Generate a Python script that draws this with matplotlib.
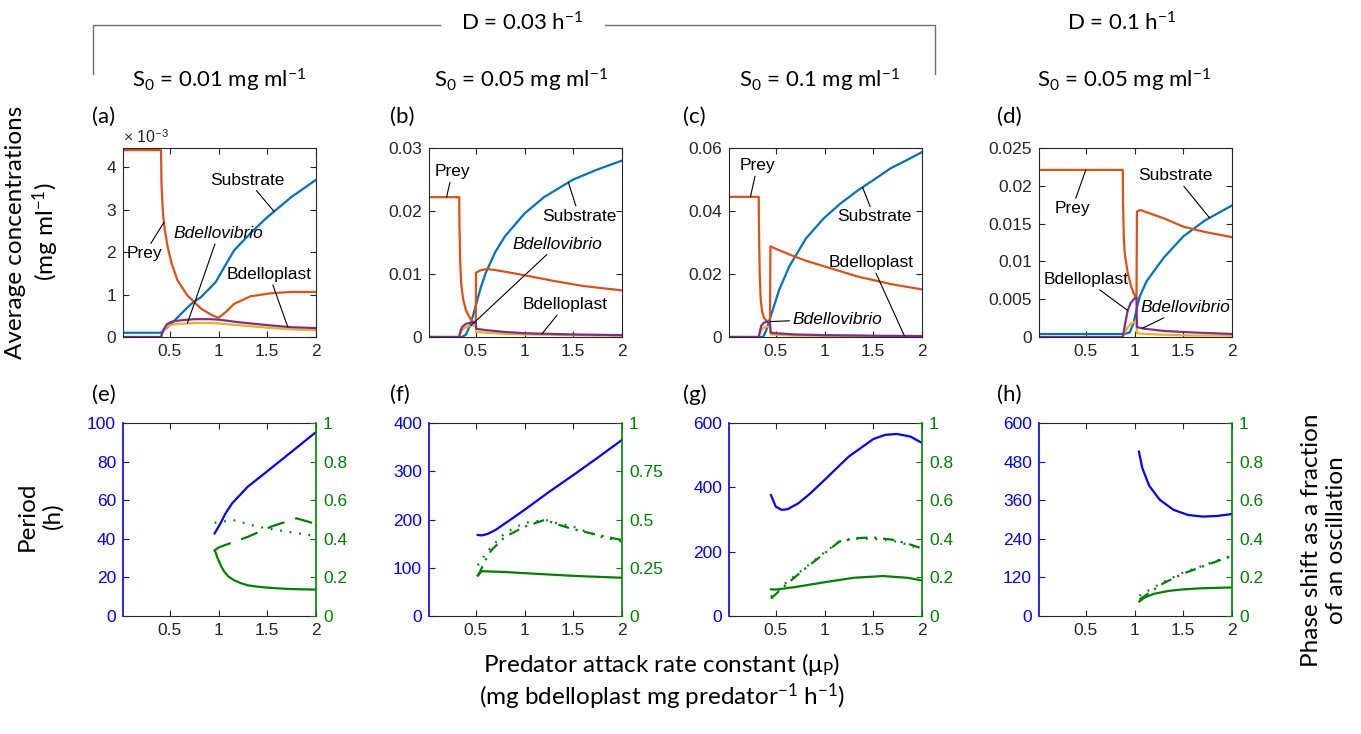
import numpy as np
import matplotlib
matplotlib.use("Agg")
import matplotlib.pyplot as plt
from matplotlib.lines import Line2D
from matplotlib.ticker import FuncFormatter

plt.rcParams['font.family'] = 'Liberation Sans'
plt.rcParams['mathtext.fontset'] = 'custom'
plt.rcParams['mathtext.rm'] = 'Lato'
plt.rcParams['mathtext.it'] = 'Lato:italic'
plt.rcParams['mathtext.bf'] = 'Lato:bold'

# ---------------- data: average concentrations (mg/ml) vs attack rate ----------------
# (a) D = 0.03, S0 = 0.01
mu_a_prey = [0.02, 0.41, 0.415, 0.43, 0.45, 0.48, 0.52, 0.58, 0.68, 0.82, 0.92, 1.0, 1.08, 1.16, 1.33, 1.54, 1.74, 2.0]
prey_a = [4.4e-3, 4.4e-3, 3.6e-3, 2.9e-3, 2.5e-3, 2.1e-3, 1.72e-3, 1.33e-3, 0.98e-3, 0.67e-3, 0.53e-3, 0.45e-3,
          0.6e-3, 0.78e-3, 0.96e-3, 1.03e-3, 1.06e-3, 1.06e-3]
mu_a_sub = [0.02, 0.41, 0.45, 0.5, 0.55, 0.63, 0.72, 0.82, 0.97, 1.06, 1.16, 1.33, 1.5, 1.75, 2.0]
sub_a = [0.1e-3, 0.1e-3, 0.18e-3, 0.28e-3, 0.39e-3, 0.58e-3, 0.78e-3, 0.94e-3, 1.29e-3, 1.65e-3, 2.04e-3,
         2.45e-3, 2.82e-3, 3.3e-3, 3.7e-3]
mu_a_pred = [0.02, 0.41, 0.43, 0.47, 0.52, 0.6, 0.75, 0.9, 1.0, 1.2, 1.5, 1.75, 2.0]
plast_a = [0, 0, 0.15e-3, 0.3e-3, 0.36e-3, 0.39e-3, 0.42e-3, 0.42e-3, 0.41e-3, 0.35e-3, 0.28e-3, 0.23e-3, 0.21e-3]
vib_a = [0, 0, 0.12e-3, 0.24e-3, 0.29e-3, 0.31e-3, 0.33e-3, 0.33e-3, 0.32e-3, 0.28e-3, 0.22e-3, 0.18e-3, 0.16e-3]

# (b) D = 0.03, S0 = 0.05
mu_b_prey = [0.02, 0.33, 0.332, 0.34, 0.35, 0.37, 0.4, 0.44, 0.48, 0.5, 0.502, 0.55, 0.62, 0.75, 1.0, 1.3, 1.6, 2.0]
prey_b = [0.0222, 0.0222, 0.018, 0.012, 0.0085, 0.006, 0.0042, 0.003, 0.0023, 0.0024, 0.0102, 0.0106, 0.0108,
          0.0105, 0.0098, 0.0089, 0.0081, 0.0074]
mu_b_sub = [0.02, 0.36, 0.4, 0.45, 0.5, 0.55, 0.6, 0.7, 0.8, 1.0, 1.2, 1.5, 1.75, 2.0]
sub_b = [0, 0, 0.0004, 0.0022, 0.005, 0.0078, 0.0101, 0.0135, 0.016, 0.0196, 0.0222, 0.025, 0.0266, 0.028]
mu_b_pred = [0.02, 0.33, 0.34, 0.36, 0.4, 0.45, 0.5, 0.505, 0.6, 0.8, 1.0, 1.5, 2.0]
plast_b = [0, 0, 0.0008, 0.0016, 0.0021, 0.0023, 0.0023, 0.0013, 0.0011, 0.0008, 0.0006, 0.0004, 0.0003]
vib_b = [0, 0, 0.0005, 0.0011, 0.0016, 0.0018, 0.0018, 0.0008, 0.0007, 0.0005, 0.0004, 0.0003, 0.0002]

# (c) D = 0.03, S0 = 0.1
mu_c_prey = [0.02, 0.325, 0.327, 0.335, 0.345, 0.36, 0.38, 0.41, 0.44, 0.445, 0.5, 0.64, 0.8, 1.0, 1.34, 1.68, 2.0]
prey_c = [0.0445, 0.0445, 0.035, 0.02, 0.012, 0.008, 0.006, 0.005, 0.0045, 0.0288, 0.028, 0.0262, 0.0243,
          0.0224, 0.0192, 0.0168, 0.0151]
mu_c_sub = [0.02, 0.37, 0.4, 0.45, 0.535, 0.64, 0.81, 0.99, 1.16, 1.34, 1.51, 1.68, 1.86, 2.0]
sub_c = [0, 0, 0.002, 0.0068, 0.015, 0.0225, 0.0313, 0.0376, 0.0423, 0.0465, 0.05, 0.0536, 0.0564, 0.0587]
mu_c_pred = [0.02, 0.325, 0.335, 0.35, 0.38, 0.42, 0.44, 0.447, 0.5, 0.7, 1.0, 1.5, 2.0]
plast_c = [0, 0, 0.0015, 0.0035, 0.0046, 0.0049, 0.0049, 0.0014, 0.0012, 0.0008, 0.0006, 0.0004, 0.0003]
vib_c = [0, 0, 0.001, 0.0022, 0.003, 0.0033, 0.0034, 0.0008, 0.0007, 0.0005, 0.0004, 0.0003, 0.0002]

# (d) D = 0.1, S0 = 0.05
mu_d_prey = [0.02, 0.88, 0.882, 0.89, 0.9, 0.93, 0.97, 1.01, 1.02, 1.025, 1.06, 1.125, 1.3, 1.5, 1.72, 2.0]
prey_d = [0.0221, 0.0221, 0.018, 0.013, 0.011, 0.0085, 0.0065, 0.0052, 0.0051, 0.0166, 0.0168, 0.0165,
          0.0157, 0.0146, 0.0139, 0.0132]
mu_d_sub = [0.02, 0.9, 0.95, 0.99, 1.03, 1.055, 1.125, 1.3, 1.5, 1.72, 2.0]
sub_d = [0.0004, 0.0004, 0.0006, 0.0018, 0.0042, 0.0054, 0.0074, 0.0105, 0.0133, 0.0154, 0.0174]
mu_d_pred = [0.02, 0.88, 0.9, 0.93, 0.96, 1.0, 1.02, 1.025, 1.1, 1.3, 1.6, 2.0]
plast_d = [0, 0, 0.0015, 0.0035, 0.0045, 0.0051, 0.0052, 0.0013, 0.0011, 0.0008, 0.0006, 0.0004]
vib_d = [0, 0, 0.0006, 0.0013, 0.0017, 0.002, 0.002, 0.0005, 0.0004, 0.0003, 0.0002, 0.0002]

# ---------------- data: oscillation period (h) and phase shifts ----------------
mu_e_per = [0.96, 1.02, 1.07, 1.14, 1.3, 1.5, 1.71, 2.0]
period_e = [42.8, 48, 53, 58.4, 67, 75, 83.5, 95.3]
mu_e_solid = [0.96, 0.97, 0.99, 1.03, 1.06, 1.1, 1.16, 1.23, 1.3, 1.4, 1.5, 1.65, 1.78, 2.0]
phase_solid_e = [0.34, 0.33, 0.30, 0.255, 0.229, 0.205, 0.185, 0.17, 0.159, 0.152, 0.147, 0.142, 0.139, 0.137]
mu_e_dash = [0.96, 1.0, 1.3, 1.55, 1.8, 2.0]
phase_dash_e = [0.34, 0.355, 0.41, 0.465, 0.506, 0.477]
mu_e_dot = [0.96, 1.15, 1.4, 1.7, 2.0]
phase_dot_e = [0.483, 0.497, 0.463, 0.437, 0.414]

mu_f_per = [0.52, 0.56, 0.62, 0.7, 0.83, 1.0, 1.25, 1.5, 1.75, 2.0]
period_f = [168, 167, 170, 178, 196, 220, 257, 292, 328, 365]
mu_f_solid = [0.52, 0.56, 0.8, 1.0, 1.5, 2.0]
phase_solid_f = [0.21, 0.232, 0.228, 0.222, 0.208, 0.198]
mu_f_other = [0.52, 0.6, 0.66, 0.8, 1.0, 1.22, 1.3, 1.5, 1.75, 2.0]
phase_dashdot_f = [0.206, 0.29, 0.341, 0.41, 0.463, 0.5, 0.48, 0.45, 0.42, 0.393]
phase_dot_f = [0.263, 0.32, 0.359, 0.43, 0.483, 0.497, 0.485, 0.463, 0.414, 0.385]

mu_g_per = [0.45, 0.5, 0.56, 0.62, 0.73, 0.85, 1.0, 1.25, 1.5, 1.62, 1.74, 1.88, 2.0]
period_g = [376, 340, 330, 332, 350, 380, 423, 496, 550, 563, 566, 558, 538]
mu_g_solid = [0.45, 0.5, 0.7, 1.0, 1.3, 1.6, 1.85, 2.0]
phase_solid_g = [0.138, 0.137, 0.15, 0.175, 0.198, 0.207, 0.198, 0.184]
mu_g_other = [0.45, 0.6, 0.8, 1.0, 1.15, 1.3, 1.5, 1.7, 1.85, 2.0]
phase_dashdot_g = [0.09, 0.16, 0.245, 0.325, 0.385, 0.403, 0.407, 0.395, 0.375, 0.35]
phase_dot_g = [0.1, 0.17, 0.25, 0.33, 0.385, 0.4, 0.4, 0.39, 0.37, 0.345]

mu_h_per = [1.045, 1.08, 1.15, 1.26, 1.4, 1.55, 1.7, 1.85, 2.0]
period_h = [511, 460, 405, 361, 330, 314, 309, 311, 317]
mu_h_solid = [1.05, 1.1, 1.2, 1.35, 1.5, 1.7, 2.0]
phase_solid_h = [0.075, 0.095, 0.115, 0.13, 0.138, 0.144, 0.148]
mu_h_other = [1.05, 1.29, 1.5, 1.88, 2.0]
phase_dashdot_h = [0.085, 0.168, 0.22, 0.29, 0.31]
phase_dot_h = [0.105, 0.175, 0.225, 0.293, 0.312]

x_ticks = [0.5, 1, 1.5, 2]
x_tick_labels = ['0.5', '1', '1.5', '2']
panel_letters_top = ['(a)', '(b)', '(c)', '(d)']
panel_letters_bot = ['(e)', '(f)', '(g)', '(h)']
s0_titles = [r'S$_0$ = 0.01 mg ml$^{-1}$', r'S$_0$ = 0.05 mg ml$^{-1}$',
             r'S$_0$ = 0.1 mg ml$^{-1}$', r'S$_0$ = 0.05 mg ml$^{-1}$']

# ---------------- styling ----------------
W, H = 1361, 734
C_SUB, C_PREY, C_VIB, C_PLAST = '#0072BD', '#D95319', '#EDB120', '#7E2F8E'
C_PER, C_PHASE = '#0000FF', '#008000'
AXC = '#262626'
LW = 1.6
TICK_FS = 12.5
HEAD_FONT = 'Lato'
TITLE_FS = 17.5

fig = plt.figure(figsize=(W / 100, H / 100), dpi=100)


def rect(l, t, r, b):
    return [l / W, 1 - b / H, (r - l) / W, (b - t) / H]


def ftext(x, y, s, **kw):
    fig.text(x / W, 1 - y / H, s, **kw)


lefts = [123, 429, 729, 1039]
width = 193
top_row = (148, 337)
bot_row = (423, 616)


def base_style(ax):
    ax.set_xlim(0.02, 2)
    ax.set_xticks(x_ticks)
    ax.set_xticklabels(x_tick_labels)
    ax.tick_params(direction='in', length=4.5, width=0.8, labelsize=TICK_FS, colors=AXC, pad=5)
    ax.tick_params(axis='x', top=True)
    for s in ax.spines.values():
        s.set_color(AXC)
        s.set_linewidth(0.8)


gfmt = FuncFormatter(lambda v, p: '%g' % v)

top_specs = [
    dict(prey=(mu_a_prey, prey_a), sub=(mu_a_sub, sub_a), plast=(mu_a_pred, plast_a), vib=(mu_a_pred, vib_a),
         ylim=(0, 4.45e-3), yticks=[0, 1e-3, 2e-3, 3e-3, 4e-3]),
    dict(prey=(mu_b_prey, prey_b), sub=(mu_b_sub, sub_b), plast=(mu_b_pred, plast_b), vib=(mu_b_pred, vib_b),
         ylim=(0, 0.03), yticks=[0, 0.01, 0.02, 0.03]),
    dict(prey=(mu_c_prey, prey_c), sub=(mu_c_sub, sub_c), plast=(mu_c_pred, plast_c), vib=(mu_c_pred, vib_c),
         ylim=(0, 0.06), yticks=[0, 0.02, 0.04, 0.06]),
    dict(prey=(mu_d_prey, prey_d), sub=(mu_d_sub, sub_d), plast=(mu_d_pred, plast_d), vib=(mu_d_pred, vib_d),
         ylim=(0, 0.025), yticks=[0, 0.005, 0.01, 0.015, 0.02, 0.025]),
]

# label text, italic?, text position (mu, value), series to point at, mu of target
annotations = [
    [('Substrate', False, (1.30, 3.69e-3), 'sub', 1.57),
     ('Prey', False, (0.24, 1.96e-3), 'prey', 0.44),
     ('Bdellovibrio', True, (1.0, 2.43e-3), 'vib', 0.68),
     ('Bdelloplast', False, (1.52, 1.47e-3), 'plast', 1.71)],
    [('Prey', False, (0.26, 0.0262), 'prey', 0.2),
     ('Substrate', False, (1.56, 0.0192), 'sub', 1.45),
     ('Bdellovibrio', True, (1.34, 0.0147), 'vib', 0.45),
     ('Bdelloplast', False, (1.42, 0.0051), 'plast', 1.18)],
    [('Prey', False, (0.31, 0.0543), 'prey', 0.24),
     ('Substrate', False, (1.51, 0.0381), 'sub', 1.39),
     ('Bdelloplast', False, (1.48, 0.0235), 'plast', 1.82),
     ('Bdellovibrio', True, (1.13, 0.0057), 'plast', 0.44)],
    [('Prey', False, (0.36, 0.017), 'prey', 0.5),
     ('Substrate', False, (1.42, 0.0213), 'sub', 1.77),
     ('Bdelloplast', False, (0.5, 0.0076), 'plast', 0.93),
     ('Bdellovibrio', True, (1.52, 0.0039), 'plast', 1.08)],
]

for i, spec in enumerate(top_specs):
    ax = fig.add_axes(rect(lefts[i], top_row[0], lefts[i] + width, top_row[1]))
    base_style(ax)
    ax.tick_params(axis='y', right=True)
    ax.plot(*spec['sub'], color=C_SUB, lw=LW)
    ax.plot(*spec['prey'], color=C_PREY, lw=LW)
    ax.plot(*spec['vib'], color=C_VIB, lw=LW)
    ax.plot(*spec['plast'], color=C_PLAST, lw=LW)
    ax.set_ylim(*spec['ylim'])
    ax.set_yticks(spec['yticks'])
    if i == 0:
        ax.yaxis.set_major_formatter(FuncFormatter(lambda v, p: '%g' % round(v * 1e3, 6)))
        ax.text(0.0, 1.012, r'$\times$ 10$^{-3}$', transform=ax.transAxes, ha='left', va='bottom',
                fontsize=11.5, color=AXC)
    else:
        ax.yaxis.set_major_formatter(gfmt)
    for label, ital, (tx, ty), key, tmu in annotations[i]:
        sx, sy = spec[key]
        ymark = float(np.interp(tmu, sx, sy))
        ax.annotate(label, xy=(tmu, ymark), xytext=(tx, ty), ha='center', va='center',
                    fontsize=TICK_FS, style='italic' if ital else 'normal', color='black',
                    annotation_clip=False,
                    arrowprops=dict(arrowstyle='-', color='black', lw=0.8, shrinkA=0, shrinkB=0))

bot_specs = [
    dict(per=(mu_e_per, period_e), ylim=(0, 100), yticks=[0, 20, 40, 60, 80, 100],
         rticks=[0, 0.2, 0.4, 0.6, 0.8, 1],
         phases=[((mu_e_solid, phase_solid_e), '-'),
                 ((mu_e_dash, phase_dash_e), (0, (8, 5))),
                 ((mu_e_dot, phase_dot_e), (0, (0.8, 3.5)))]),
    dict(per=(mu_f_per, period_f), ylim=(0, 400), yticks=[0, 100, 200, 300, 400],
         rticks=[0, 0.25, 0.5, 0.75, 1],
         phases=[((mu_f_solid, phase_solid_f), '-'),
                 ((mu_f_other, phase_dashdot_f), (0, (5, 3, 1, 3))),
                 ((mu_f_other, phase_dot_f), (0, (0.8, 3.5)))]),
    dict(per=(mu_g_per, period_g), ylim=(0, 600), yticks=[0, 200, 400, 600],
         rticks=[0, 0.2, 0.4, 0.6, 0.8, 1],
         phases=[((mu_g_solid, phase_solid_g), '-'),
                 ((mu_g_other, phase_dashdot_g), (0, (5, 3, 1, 3))),
                 ((mu_g_other, phase_dot_g), (0, (0.8, 3.5)))]),
    dict(per=(mu_h_per, period_h), ylim=(0, 600), yticks=[0, 120, 240, 360, 480, 600],
         rticks=[0, 0.2, 0.4, 0.6, 0.8, 1],
         phases=[((mu_h_solid, phase_solid_h), '-'),
                 ((mu_h_other, phase_dashdot_h), (0, (5, 3, 1, 3))),
                 ((mu_h_other, phase_dot_h), (0, (0.8, 3.5)))]),
]

for i, spec in enumerate(bot_specs):
    ax = fig.add_axes(rect(lefts[i], bot_row[0], lefts[i] + width, bot_row[1]))
    base_style(ax)
    ax.plot(*spec['per'], color=C_PER, lw=LW)
    ax.set_ylim(*spec['ylim'])
    ax.set_yticks(spec['yticks'])
    ax.yaxis.set_major_formatter(gfmt)
    ax.tick_params(axis='y', colors=C_PER, right=False)
    ax.spines['left'].set_color(C_PER)
    ax.spines['left'].set_linewidth(1.2)
    ax.spines['right'].set_visible(False)

    ax2 = ax.twinx()
    ax2.set_xlim(0.02, 2)
    for (xy, ls) in spec['phases']:
        ax2.plot(*xy, color=C_PHASE, lw=LW, linestyle=ls)
    ax2.set_ylim(0, 1)
    ax2.set_yticks(spec['rticks'])
    ax2.yaxis.set_major_formatter(gfmt)
    ax2.tick_params(axis='y', direction='in', length=4.5, width=0.8, labelsize=TICK_FS,
                    colors=C_PHASE, pad=5)
    for s in ['left', 'top', 'bottom']:
        ax2.spines[s].set_visible(False)
    ax2.spines['right'].set_color(C_PHASE)
    ax2.spines['right'].set_linewidth(1.2)

# panel letters
top_letter_x = [92, 390, 683, 997]
for i in range(4):
    ftext(top_letter_x[i], 117, panel_letters_top[i], fontsize=16, family=HEAD_FONT, ha='left', va='center')
    ftext(top_letter_x[i], 395, panel_letters_bot[i], fontsize=16, family=HEAD_FONT, ha='left', va='center')

# column headings
title_x = [219, 521, 820, 1124]
for i in range(4):
    ftext(title_x[i], 80, s0_titles[i], fontsize=16, family=HEAD_FONT, ha='center', va='center')
ftext(522, 23, r'D = 0.03 h$^{-1}$', fontsize=16, family=HEAD_FONT, ha='center', va='center')
ftext(1122, 23, r'D = 0.1 h$^{-1}$', fontsize=16, family=HEAD_FONT, ha='center', va='center')

# bracket grouping the D = 0.03 columns
br_y, br_bot = 25, 74
for xs, ys in [([93, 93, 440], [br_bot, br_y, br_y]), ([605, 935, 935], [br_y, br_y, br_bot])]:
    fig.add_artist(Line2D([x / W for x in xs], [1 - y / H for y in ys], color='#6e6e6e', lw=1.0))

# axis titles
ftext(33, 232, 'Average concentrations\n' + r'(mg ml$^{-1}$)', fontsize=TITLE_FS, family=HEAD_FONT,
      rotation=90, ha='center', va='center', linespacing=1.2, multialignment='center')
ftext(40, 516, 'Period\n(h)', fontsize=TITLE_FS, family=HEAD_FONT, rotation=90, ha='center', va='center',
      linespacing=1.2, multialignment='center')
ftext(1324, 540, 'Phase shift as a fraction\nof an oscillation', fontsize=TITLE_FS, family=HEAD_FONT,
      rotation=90, ha='center', va='center', linespacing=1.2, multialignment='center')
ftext(662, 664, r'Predator attack rate constant (μ$_\mathrm{P}$)', fontsize=TITLE_FS, family=HEAD_FONT,
      ha='center', va='center')
ftext(662, 697, r'(mg bdelloplast mg predator$^{-1}$ h$^{-1}$)', fontsize=TITLE_FS, family=HEAD_FONT,
      ha='center', va='center')

fig.savefig('out.png', dpi=100)
